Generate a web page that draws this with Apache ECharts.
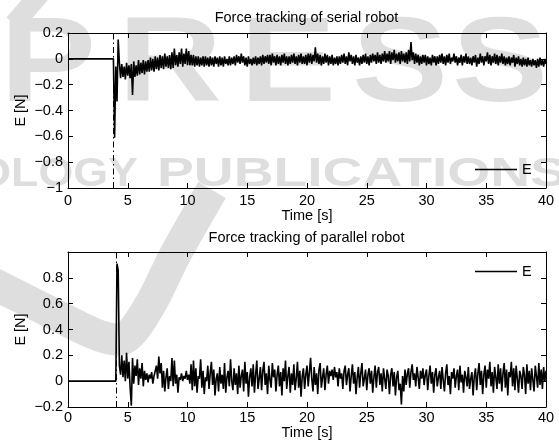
<!DOCTYPE html>
<html><head><meta charset="utf-8">
<script src="https://cdn.jsdelivr.net/npm/echarts@6/dist/echarts.min.js"></script>
<style>html,body{margin:0;padding:0;background:#fff}#c{width:559px;height:446px}</style>
</head><body><div id="c"></div><script>
// ---- data ----
const titles = ['Force tracking of serial robot', 'Force tracking of parallel robot'];
const xLabel = 'Time [s]';
const yLabel = 'E [N]';
const seriesName = 'E';
const xMin = 0, xMax = 40, xStep = 5;
const yTopMin = -1, yTopMax = 0.2;
const yBotMin = -0.2, yBotMax = 1.0, yBotLastLabel = 0.8;
const yStep = 0.2;
const idleTime = 0, idleE = 0;          // E before contact
const sampleStep = 0.1;                  // s between samples
const serialContact = 3.8;               // dash-dot line, start of serialE
const parallelContact = 4.0;             // dash-dot line, start of parallelE
const serialE = [
 0,-0.61,-0.06,-0.33,0.15,-0.03,-0.15,-0.04,-0.14,-0.06,
 -0.16,-0.03,-0.13,-0.05,-0.15,-0.04,-0.28,-0.02,-0.14,-0.05,
 -0.13,-0.01,-0.12,-0.03,-0.11,-0.01,-0.12,-0.02,-0.1,-0.01,
 -0.1,0.01,-0.09,0.0,-0.1,0.02,-0.08,0.01,-0.09,0.03,
 -0.07,0.02,-0.08,0.04,-0.06,0.02,-0.07,0.03,-0.08,0.05,
 -0.07,0.08,-0.05,0.03,-0.06,0.05,-0.04,0.08,-0.06,0.04,
 -0.04,0.08,-0.05,0.06,-0.05,0.03,-0.05,0.03,-0.06,0.02,
 -0.05,0.02,-0.06,0.01,-0.05,0.02,-0.06,0.02,-0.05,0.01,
 -0.06,0.02,-0.05,0.01,-0.06,0.02,-0.04,0.01,-0.06,0.02,
 -0.05,0.01,-0.06,0.02,-0.04,0.0,-0.05,0.02,-0.05,0.01,
 -0.04,0.02,-0.05,0.03,-0.03,0.02,-0.04,0.04,-0.03,0.02,
 -0.05,0.01,-0.06,0.02,-0.04,0.0,-0.05,0.01,-0.04,0.02,
 -0.05,0.01,-0.04,0.02,-0.05,0.03,-0.04,0.02,-0.03,0.03,
 -0.04,0.03,-0.05,0.04,-0.03,0.02,-0.05,0.03,-0.04,0.02,
 -0.05,0.03,-0.03,0.04,-0.04,0.02,-0.05,0.02,-0.04,0.03,
 -0.03,0.04,-0.04,0.02,-0.05,0.03,-0.03,0.04,-0.04,0.02,
 -0.04,0.03,-0.05,0.04,-0.03,0.04,-0.04,0.03,-0.02,0.09,
 -0.03,0.04,-0.04,0.03,-0.05,0.02,-0.04,0.04,-0.03,0.03,
 -0.05,0.02,-0.04,0.03,-0.05,0.01,-0.04,0.02,-0.05,0.02,
 -0.04,0.03,-0.03,0.04,-0.04,0.02,-0.05,0.05,-0.02,0.03,
 -0.04,0.02,-0.05,0.03,-0.03,0.01,-0.05,0.02,-0.04,0.03,
 -0.03,0.04,-0.04,0.02,-0.05,0.03,-0.03,0.04,-0.02,0.03,
 -0.04,0.05,-0.03,0.03,-0.04,0.04,-0.02,0.06,-0.03,0.04,
 -0.02,0.06,-0.04,0.05,-0.01,0.07,-0.03,0.04,-0.02,0.05,
 -0.04,0.06,-0.02,0.04,-0.03,0.05,-0.04,0.07,-0.02,0.13,
 -0.01,0.05,-0.04,0.04,-0.03,0.03,-0.05,0.02,-0.04,0.03,
 -0.03,0.03,-0.05,0.02,-0.04,0.01,-0.05,0.03,-0.03,0.02,
 -0.05,0.02,-0.04,0.03,-0.03,0.04,-0.04,0.02,-0.05,0.03,
 -0.03,0.04,-0.04,0.01,-0.02,0.04,-0.03,0.02,-0.05,0.01,
 -0.03,0.03,-0.05,0.02,-0.03,0.04,-0.04,0.02,-0.04,0.01,
 -0.05,0.02,-0.03,0.03,-0.06,0.01,-0.04,0.04,-0.03,0.02,
 -0.05,0.02,-0.02,0.05,-0.04,0.03,-0.05,0.02,-0.03,0.04,
 -0.04,0.03,-0.05,0.02,-0.03,0.04,-0.04,0.02,-0.05,0.01,
 -0.04,0.02,-0.05,0.01,-0.03,0.03,-0.06,0.01,-0.04,0.02,
 -0.05,0.0,-0.06,0.01,-0.05,0.0,-0.06,0.01,-0.05,-0.01,
 -0.06,0.0,-0.05,-0.01,-0.07,0.0,-0.06,0.01,-0.05,-0.01,
 -0.06,0.0,-0.04
];
const parallelE = [
 0,0.91,0.86,0.12,0.05,0.2,0.03,0.16,0.0,0.22,
 0.02,0.15,-0.05,-0.19,0.18,-0.02,0.12,0.04,0.17,-0.03,
 0.1,0.02,0.14,-0.04,0.08,0.01,0.06,-0.01,0.05,0.02,
 0.07,-0.02,0.04,0.03,0.12,0.02,0.19,0.06,0.14,-0.05,
 0.08,-0.08,0.03,0.1,-0.06,0.04,0.0,0.18,-0.04,0.16,
 -0.02,0.05,-0.09,0.03,0.01,0.06,0.0,0.04,0.02,0.08,
 0.01,0.05,-0.02,0.13,-0.07,0.16,-0.04,0.1,-0.09,0.04,
 0.02,0.17,-0.05,0.08,-0.1,0.03,0.0,0.12,-0.06,0.06,
 0.15,-0.03,0.09,-0.11,0.02,0.06,-0.08,0.11,-0.02,0.05,
 -0.06,0.14,-0.09,0.03,0.08,-0.04,0.17,0.0,-0.07,0.1,
 -0.03,0.06,-0.1,0.12,-0.05,0.04,0.09,-0.08,0.15,-0.02,
 0.07,-0.12,0.03,0.1,-0.04,0.13,-0.09,0.05,0.16,-0.06,
 0.02,0.11,-0.07,0.08,0.15,-0.03,0.06,-0.1,0.12,0.01,
 -0.05,0.14,0.03,0.09,-0.08,0.05,0.12,-0.04,0.07,-0.11,
 0.1,0.0,0.16,-0.06,0.04,0.11,-0.09,0.06,-0.03,0.13,
 -0.07,0.02,0.15,-0.05,0.08,-0.12,0.04,0.1,-0.06,0.05,
 0.12,-0.04,0.07,0.18,0.02,-0.08,0.11,-0.03,0.06,-0.1,
 0.09,0.14,-0.05,0.03,0.1,-0.07,0.05,0.12,-0.02,0.08,
 0.04,0.09,0.01,0.11,0.03,0.07,-0.04,0.1,0.02,0.06,
 -0.06,0.08,0.12,-0.03,0.05,0.1,-0.08,0.04,0.13,-0.02,
 0.07,-0.1,0.03,0.11,-0.05,0.06,0.14,-0.04,0.02,0.09,
 -0.07,0.05,0.1,-0.02,0.08,-0.09,0.03,0.12,-0.05,0.07,
 0.11,-0.03,0.06,-0.08,0.1,0.02,-0.06,0.09,0.04,-0.1,
 0.05,0.1,-0.04,0.07,-0.11,0.03,0.08,-0.07,-0.02,-0.18,
 0.04,-0.08,0.09,-0.03,0.06,0.1,-0.05,0.07,0.13,0.01,
 0.06,-0.04,0.11,0.03,-0.06,0.08,0.02,0.1,-0.03,0.05,
 0.09,-0.07,0.04,0.12,-0.02,0.07,-0.09,0.05,0.1,-0.04,
 0.03,0.08,-0.06,0.11,0.01,-0.08,0.06,0.13,-0.03,0.04,
 -0.1,0.07,0.02,0.1,-0.05,0.04,0.09,-0.07,0.12,-0.01,
 0.05,-0.09,0.08,0.03,-0.04,0.11,-0.06,0.02,0.07,-0.11,
 0.04,0.1,-0.07,0.06,0.14,-0.03,0.08,-0.1,0.05,0.12,
 -0.05,0.09,0.02,0.15,-0.04,0.07,-0.09,0.11,0.03,-0.06,
 0.13,-0.02,0.1,-0.08,0.06,0.14,-0.05,0.09,-0.11,0.07,
 0.03,0.15,-0.04,0.1,-0.07,0.12,0.02,-0.09,0.08,0.04,
 -0.06,0.11,0.05,-0.1,0.13,-0.02,0.08,-0.07,0.1,0.01,
 -0.08,0.12,0.04,-0.05,0.14,-0.03,0.09,-0.06,0.11,0.0,
 0.08
];

// ---- build ----
function toXY(t0, vals) {
  const d = [[idleTime, idleE]];
  vals.forEach((v, i) => d.push([+(t0 + i * sampleStep).toFixed(2), v]));
  return d;
}
const FONT = 'Liberation Sans';
const FS = 14.5;
function fmt(v) { const r = Math.round(v * 10) / 10; return String(r).replace('-', '\u2212'); }

const axLine = { onZero: false, lineStyle: { color: '#000', width: 1 } };
const axTick = { inside: true, length: 5, lineStyle: { color: '#000', width: 1 } };
const lab = (margin, extra) => Object.assign({ color: '#000', fontFamily: FONT, fontSize: FS, margin: margin, formatter: fmt }, extra || {});
const nameStyle = { color: '#000', fontFamily: FONT, fontSize: FS };

function xAxes(gi, margin, gap) {
  const base = { gridIndex: gi, type: 'value', min: xMin, max: xMax, interval: xStep, splitLine: { show: false }, axisLine: axLine, axisTick: axTick };
  return [
    Object.assign({}, base, { position: 'bottom', axisLabel: lab(margin), name: xLabel, nameLocation: 'middle', nameGap: gap, nameTextStyle: nameStyle }),
    Object.assign({}, base, { position: 'top', axisLabel: { show: false } })
  ];
}
function yAxes(gi, mn, mx, lastLabel) {
  const base = { gridIndex: gi, type: 'value', min: mn, max: mx, interval: yStep, splitLine: { show: false }, axisLine: axLine, axisTick: axTick };
  return [
    Object.assign({}, base, { position: 'left', axisLabel: lab(5, { formatter: v => (v > lastLabel + 1e-6 ? '' : fmt(v)) }), name: yLabel, nameLocation: 'middle', nameGap: 40, nameMoveOverlap: false, nameRotate: 90, nameTextStyle: nameStyle }),
    Object.assign({}, base, { position: 'right', axisLabel: { show: false } })
  ];
}
function lineSeries(xi, yi, data, contact) {
  return {
    type: 'line', name: seriesName, xAxisIndex: xi, yAxisIndex: yi, data: data,
    symbol: 'none', showSymbol: false, sampling: null, color: '#000',
    lineStyle: { color: '#000', width: 1.6 }, z: 3,
    markLine: { silent: true, symbol: ['none', 'none'], label: { show: false },
      lineStyle: { color: '#000', width: 1, type: [6, 3, 1.5, 3] }, data: [{ xAxis: contact }] }
  };
}
function legend(top) {
  return { data: [seriesName], left: 475, top: top, padding: 0, icon: 'rect', itemWidth: 42, itemHeight: 1.3, selectedMode: false,
    textStyle: { color: '#000', fontFamily: FONT, fontSize: FS } };
}

const WM = '#dedede';
const wmText = (t, x, y, size, sx, align) => ({ type: 'text', x: x, y: y, scaleX: sx, z: -10, silent: true,
  style: { text: t, fill: WM, fontFamily: 'Liberation Sans', fontWeight: 'bold', fontSize: size, verticalAlign: 'middle', align: align || 'left' } });

const option = {
  animation: false,
  backgroundColor: '#fff',
  grid: [
    { left: 68, top: 33, width: 478, height: 155 },
    { left: 68, top: 252, width: 478, height: 155 }
  ],
  xAxis: xAxes(0, 5, 18).concat(xAxes(1, 3, 15)),
  yAxis: yAxes(0, yTopMin, yTopMax, yTopMax).concat(yAxes(1, yBotMin, yBotMax, yBotLastLabel)),
  legend: [legend(162), legend(264)],
  series: [
    lineSeries(0, 0, toXY(serialContact, serialE), serialContact),
    lineSeries(2, 2, toXY(parallelContact, parallelE), parallelContact)
  ],
  graphic: { elements: [
    wmText('P', 0, 68, 120, 1.2),
    wmText('R', 118, 68, 120, 1.2),
    wmText('E', 240, 68, 120, 1.2),
    wmText('S', 352, 68, 120, 1.2),
    wmText('S', 452, 68, 120, 1.2),
    wmText('OLOGY', 138, 175, 40, 1.12, 'right'),
    wmText('PUBLICATIONS', 157, 175, 40, 1.38),
    { type: 'polyline', z: -10, silent: true, shape: { points: [[-10, 282], [50, 312], [100, 336], [125, 338], [150, 305], [175, 255], [212, 190]], smooth: 0.3 },
      style: { stroke: WM, lineWidth: 32, fill: null } },
    { type: 'polyline', z: -10, silent: true, shape: { points: [[14, 24], [40, -6]] }, style: { stroke: WM, lineWidth: 20, fill: null } },
    { type: 'text', x: 306.5, y: 17.5, z: 10, style: { text: titles[0], fill: '#000', fontFamily: FONT, fontSize: FS, align: 'center', verticalAlign: 'middle' } },
    { type: 'text', x: 306.5, y: 237.5, z: 10, style: { text: titles[1], fill: '#000', fontFamily: FONT, fontSize: FS, align: 'center', verticalAlign: 'middle' } }
  ] }
};
const chart = echarts.init(document.getElementById('c'));
chart.setOption(option);
</script></body></html>
